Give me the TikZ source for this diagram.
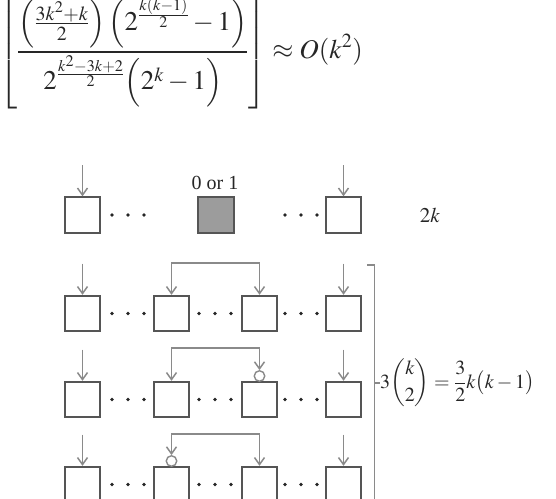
\documentclass[tikz,border=0pt]{standalone}
\usepackage{amsmath}
\usepackage{mathptmx}
\usepackage{fontspec}
\setmainfont{Liberation Serif}
\usetikzlibrary{arrows.meta}
\definecolor{boxline}{HTML}{555555}
\definecolor{arrline}{HTML}{8A8A8A}
\definecolor{boxfill}{HTML}{9C9C9C}
\definecolor{txt}{HTML}{262626}
\begin{document}
\begin{tikzpicture}[x=1pt,y=-1pt,
  cell/.style={draw=boxline,line width=1.9pt,minimum size=35.5pt,inner sep=0pt,fill=white},
  graycell/.style={cell,fill=boxfill},
  arr/.style={draw=arrline,line width=1.5pt,-{Straight Barb[length=7pt,width=10pt]}},
  darr/.style={draw=arrline,line width=1.5pt,{Straight Barb[length=7pt,width=10pt]}-{Straight Barb[length=7pt,width=10pt]}},
  circ/.style={circle,draw=arrline,line width=1.4pt,fill=white,minimum size=10.5pt,inner sep=0pt},
  dotmark/.style={circle,fill=txt,minimum size=3.6pt,inner sep=0pt},
  lbl/.style={text=txt,inner sep=0pt}]
\useasboundingbox (0,0) rectangle (556,498);
% formula
\node[lbl,font=\fontsize{27}{32}\selectfont] (formula) at (181,52)
 {$\displaystyle\left\lfloor\frac{\left(\frac{3k^2+k}{2}\right)\left(2^{\frac{k(k-1)}{2}}-1\right)}{2^{\frac{k^2-3k+2}{2}}\Bigl(2^k-1\Bigr)}\right\rfloor\approx O(k^2)$};
% row 1
\node[cell] (r1a) at (82.5,215) {};
\node[graycell] (r1g) at (216,215) {};
\node[cell] (r1d) at (343.5,215) {};
\node[lbl,font=\fontsize{20}{24}\selectfont,anchor=base] (zo) at (215,189) {0 or 1};
\node[lbl,font=\fontsize{21}{25}\selectfont] (twok) at (430,215) {$2k$};
\coordinate (i1a) at (82.5,165);
\coordinate (i1d) at (343.5,165);
\draw[arr] (i1a) -- (r1a.north);
\draw[arr] (i1d) -- (r1d.north);
\foreach \x [count=\i] in {112,128,144,285,301,317}
  \node[dotmark] (d1\i) at (\x,215) {};
% rows 2-4
\foreach \r/\y in {2/313.5,3/399.5,4/484.5}{
  \node[cell] (r\r a) at (82.5,\y) {};
  \node[cell] (r\r b) at (171.5,\y) {};
  \node[cell] (r\r c) at (259.5,\y) {};
  \node[cell] (r\r d) at (343.5,\y) {};
  \foreach \x [count=\i] in {112,128,144,199,215,231,285,301,317}
    \node[dotmark] (d\r\i) at (\x,\y) {};
  \coordinate (i\r a) at (82.5,\y-50);
  \coordinate (i\r d) at (343.5,\y-50);
  \draw[arr] (i\r a) -- (r\r a.north);
  \draw[arr] (i\r d) -- (r\r d.north);
}
% row 2 connector
\draw[darr] (r2c.north) -- ++(0,-32) -| (r2b.north);
% row 3 connector with circle at c
\node[circ] (o3) at (259.5,376) {};
\draw[darr] (o3.north) -- ++(0,-22) -| (r3b.north);
% row 4 connector with circle at b
\node[circ] (o4) at (171.5,461) {};
\draw[darr] (r4c.north) -- ++(0,-32) -| (o4.north);
% bracket
\draw[draw=arrline,line width=1.6pt] (367,265) -- (374.5,265) -- (374.5,505);
\draw[draw=arrline,line width=1.6pt] (374.5,383) -- (379.5,383);
\node[lbl,font=\fontsize{20}{24}\selectfont,anchor=west] (cnt) at (380,383)
 {$3\dbinom{k}{2}=\dfrac{3}{2}k\bigl(k-1\bigr)$};
\end{tikzpicture}
\end{document}
